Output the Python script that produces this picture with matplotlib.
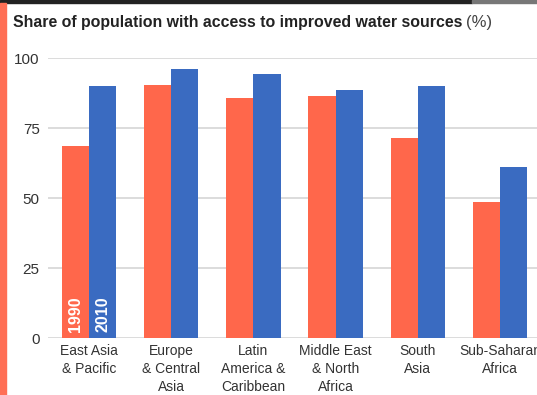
import matplotlib
matplotlib.use('Agg')
import matplotlib.pyplot as plt
import numpy as np
from matplotlib.patches import Rectangle

# data
regions = ['East Asia\n& Pacific', 'Europe\n& Central\nAsia', 'Latin\nAmerica &\nCaribbean',
           'Middle East\n& North\nAfrica', 'South\nAsia', 'Sub-Saharan\nAfrica']
share_1990 = [68.5, 90.5, 85.7, 86.4, 71.4, 48.6]
share_2010 = [90.0, 96.1, 94.3, 88.6, 90.0, 61.0]
yticks = [0, 25, 50, 75, 100]

ORANGE = '#FF674B'
BLUE = '#3A6BC1'
FONT = ['Liberation Sans', 'DejaVu Sans']
plt.rcParams['font.family'] = FONT

W, H = 537, 395
fig = plt.figure(figsize=(W / 100, H / 100), dpi=100)

# decorations: dark top rule, grey tail, orange left stripe
fig.patches.append(Rectangle((0, 1 - 3 / H), 472 / W, 3 / H, transform=fig.transFigure,
                             color='#222222', zorder=0))
fig.patches.append(Rectangle((472 / W, 1 - 3 / H), 1 - 472 / W, 3 / H, transform=fig.transFigure,
                             color='#777777', zorder=0))
fig.patches.append(Rectangle((0, 0), 6 / W, 1 - 3 / H, transform=fig.transFigure,
                             color='#FF6F55', zorder=0))

# title: bold part + normal "(%)", sized to the reference width
t = fig.text(13 / W, 1 - 27 / H, 'Share of population with access to improved water sources',
             fontsize=12.5, fontweight='bold', color='#222222', ha='left', va='baseline')
fig.canvas.draw()
w = t.get_window_extent().width
fs = 12.5 * 452 / w
t.set_fontsize(fs)
fig.canvas.draw()
bb = t.get_window_extent()
fig.text(bb.x1 / W + 4 / W, 1 - 27 / H, '(%)', fontsize=fs + 0.5, color='#444444',
         ha='left', va='baseline')

ax_l, ax_r = 48, 541
ax_b, ax_t = 338, 58
ax = fig.add_axes([ax_l / W, 1 - ax_b / H, (ax_r - ax_l) / W, (ax_b - ax_t) / H])

x = np.arange(len(regions))
bw = 0.33
ax.bar(x - bw / 2, share_1990, bw, color=ORANGE, zorder=3)
ax.bar(x + bw / 2, share_2010, bw, color=BLUE, zorder=3)

# series labels inside the first pair of bars
ax.text(x[0] - bw / 2, 2, '1990', rotation=90, color='white', fontsize=11.5,
        fontweight='bold', ha='center', va='bottom', zorder=4)
ax.text(x[0] + bw / 2, 2, '2010', rotation=90, color='white', fontsize=11.5,
        fontweight='bold', ha='center', va='bottom', zorder=4)

ax.set_xlim(-0.5, len(regions) - 0.5)
ax.set_ylim(0, 100)
ax.set_yticks(yticks)
ax.set_yticklabels([str(v) for v in yticks], fontsize=11, color='#333333')
ax.yaxis.grid(True, color='#d9d9d9', lw=1.3, zorder=0)
ax.set_axisbelow(True)
ax.tick_params(axis='y', length=0, pad=6)
ax.tick_params(axis='x', length=0, pad=4)
ax.set_xticks(x)
ax.set_xticklabels(regions, fontsize=10, color='#333333', linespacing=1.4)
for s in ax.spines.values():
    s.set_visible(False)

fig.savefig('out.png', dpi=100)
